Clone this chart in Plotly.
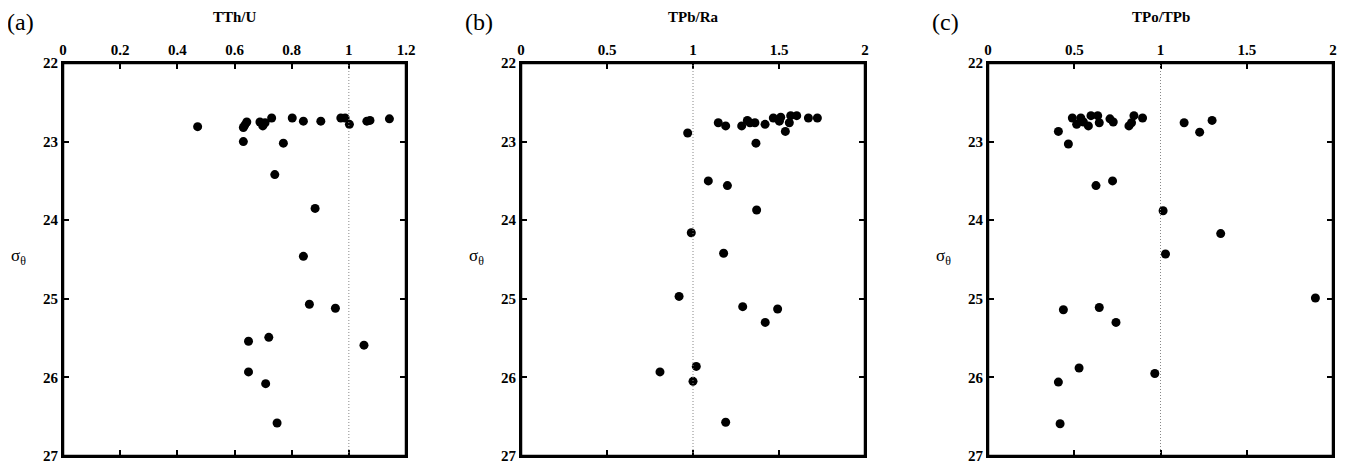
import plotly.graph_objects as go

# Panel (a) TTh/U
tthu_x = [0.471, 0.631, 0.636, 0.643, 0.689, 0.699, 0.707, 0.730, 0.802, 0.841, 0.902, 0.972, 0.987, 1.002,
          1.063, 1.074, 1.142, 0.631, 0.771, 0.741, 0.882, 0.841, 0.862, 0.953, 0.649, 0.720, 1.053, 0.649,
          0.709, 0.749]
tthu_y = [22.81, 22.82, 22.79, 22.75, 22.75, 22.80, 22.76, 22.70, 22.70, 22.74, 22.74, 22.70, 22.70, 22.78,
          22.74, 22.73, 22.71, 23.00, 23.02, 23.42, 23.85, 24.46, 25.07, 25.12, 25.54, 25.49, 25.59, 25.93,
          26.08, 26.58]

# Panel (b) TPb/Ra
tpbra_x = [0.969, 1.147, 1.190, 1.283, 1.316, 1.331, 1.360, 1.366, 1.419, 1.467, 1.502, 1.510, 1.537, 1.560,
           1.568, 1.603, 1.671, 1.723, 1.089, 1.200, 1.370, 0.990, 1.178, 0.919, 1.289, 1.492, 1.420, 1.019,
           0.808, 1.000, 1.190]
tpbra_y = [22.89, 22.76, 22.80, 22.80, 22.73, 22.76, 22.76, 23.02, 22.78, 22.70, 22.74, 22.69, 22.87, 22.76,
           22.67, 22.67, 22.70, 22.70, 23.50, 23.56, 23.87, 24.16, 24.42, 24.97, 25.10, 25.13, 25.30, 25.86,
           25.93, 26.05, 26.57]

# Panel (c) TPo/TPb
tpotpb_x = [0.408, 0.466, 0.489, 0.514, 0.538, 0.553, 0.582, 0.597, 0.636, 0.645, 0.707, 0.726, 0.817, 0.832,
            0.846, 0.896, 1.137, 1.227, 1.299, 0.722, 0.626, 1.015, 1.349, 1.029, 1.898, 0.437, 0.645, 0.742,
            0.528, 0.967, 0.408, 0.418]
tpotpb_y = [22.87, 23.03, 22.70, 22.78, 22.70, 22.75, 22.80, 22.67, 22.67, 22.76, 22.71, 22.75, 22.80, 22.76,
            22.67, 22.70, 22.76, 22.88, 22.73, 23.50, 23.56, 23.88, 24.17, 24.43, 24.99, 25.14, 25.11, 25.30,
            25.88, 25.95, 26.06, 26.59]

titles = ["TTh/U", "TPb/Ra", "TPo/TPb"]
labels = ["(a)", "(b)", "(c)"]
xranges = [[0, 1.2], [0, 2], [0, 2]]
xdticks = [0.2, 0.5, 0.5]
y_range = [27, 22]

OFF = 8  # page body margin offset
W, H = 1348 - OFF, 480
doms_px = [(63 - OFF, 406 - OFF), (521 - OFF, 865 - OFF), (988 - OFF, 1333 - OFF)]
top_px, bot_px = 63 - OFF, 456 - OFF
ph = bot_px - top_px

fig = go.Figure()
series = [(tthu_x, tthu_y), (tpbra_x, tpbra_y), (tpotpb_x, tpotpb_y)]
serif = "Liberation Serif, Times New Roman, serif"

for i, (xs, ys) in enumerate(series):
    sfx = "" if i == 0 else str(i + 1)
    fig.add_trace(go.Scatter(x=xs, y=ys, mode="markers", xaxis="x" + sfx, yaxis="y" + sfx,
                             marker=dict(color="black", size=9, line=dict(width=0)), showlegend=False))
    dom = [doms_px[i][0] / W, doms_px[i][1] / W]
    axcommon = dict(showline=True, linecolor="black", linewidth=2, mirror="ticks", ticks="inside",
                    ticklen=6, tickwidth=2, tickcolor="black", showgrid=False, zeroline=False,
                    automargin=False, ticklabeloverflow="allow",
                    tickfont=dict(family=serif, size=15, color="black", weight="bold"))
    fig.update_layout(**{
        "xaxis" + sfx: dict(domain=dom, range=xranges[i], dtick=xdticks[i], tick0=0, side="top",
                            anchor="y" + sfx, **axcommon),
        "yaxis" + sfx: dict(domain=[0, 1], range=y_range, dtick=1, tick0=22, anchor="x" + sfx,
                            **axcommon),
    })
    # reference dotted line at ratio = 1
    fig.add_shape(type="line", xref="x" + sfx, yref="y" + sfx + " domain", x0=1, x1=1, y0=0, y1=1,
                  line=dict(color="#888888", width=1, dash="1px,2px"))
    # frame
    fig.add_shape(type="rect", xref="x" + sfx + " domain", yref="y" + sfx + " domain",
                  x0=0, x1=1, y0=0, y1=1, line=dict(color="black", width=2.5), layer="above")
    cx = (doms_px[i][0] + doms_px[i][1]) / 2
    fig.add_annotation(text="<b>" + titles[i] + "</b>", xref="paper", yref="paper",
                       x=cx / W, y=1 + (top_px - (17 - OFF)) / ph, xanchor="center", yanchor="middle",
                       showarrow=False, font=dict(family=serif, size=15, color="black"))
    fig.add_annotation(text=labels[i], xref="paper", yref="paper",
                       x=(doms_px[i][0] - 58) / W, y=1 + (top_px - (22 - OFF)) / ph,
                       xanchor="left", yanchor="middle",
                       showarrow=False, font=dict(family=serif, size=24, color="black"))
    fig.add_annotation(text="σ<sub>θ</sub>", xref="paper", yref="paper",
                       x=(doms_px[i][0] - 45) / W, y=1 - (257 - 63) / ph,
                       xanchor="center", yanchor="middle",
                       showarrow=False, font=dict(family=serif, size=17, color="black"))

fig.update_layout(width=W, height=H, template="none", plot_bgcolor="white", paper_bgcolor="white",
                  margin=dict(l=0, r=0, t=top_px, b=H - bot_px), showlegend=False)

fig.write_html("out.html")
